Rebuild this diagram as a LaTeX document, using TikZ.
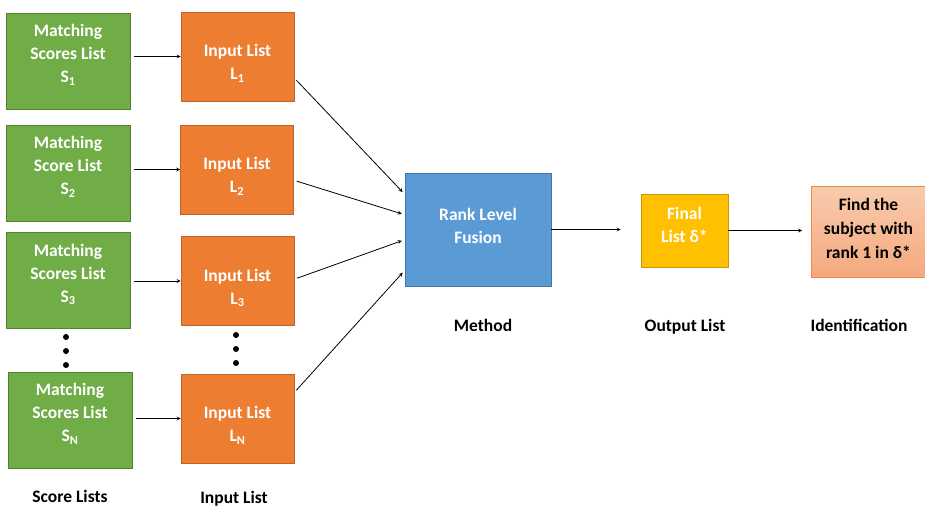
\documentclass[tikz,border=0pt]{standalone}
\usepackage{fontspec}
\setmainfont{Carlito}
\usetikzlibrary{calc,positioning,arrows}

\definecolor{scoregreen}{HTML}{70AD47}
\definecolor{inputorange}{HTML}{ED7D31}
\definecolor{fusionblue}{HTML}{5B9BD5}
\definecolor{finalyellow}{HTML}{FFC000}
\definecolor{identtop}{HTML}{F8CBAD}
\definecolor{identbot}{HTML}{F4A97E}

\tikzset{
	box/.style={rectangle,inner sep=0pt,line width=0.6pt},
	boxtext/.style={inner sep=0pt,align=center,text=white,font=\fontsize{17.5}{23}\selectfont\bfseries},
	scorebox/.style={box,fill=scoregreen,draw=scoregreen!75!black,minimum width=124pt,minimum height=96pt},
	listbox/.style={box,fill=inputorange,draw=inputorange!80!black,minimum width=113pt,minimum height=89pt},
	caption/.style={font=\fontsize{17.5}{23}\selectfont\bfseries,anchor=base}
}

\begin{document}
\begin{tikzpicture}[x=1pt,y=-1pt]
		\useasboundingbox (0,0) rectangle (925,508);
		% score lists and input lists
		\node[scorebox] (s1) at (68,61)    {};
		\node[scorebox] (s2) at (68,173)   {};
		\node[scorebox] (s3) at (68,280.5) {};
		\node[scorebox] (sn) at (70,420)   {};
		\node[boxtext] (s1-t) at ([yshift=6pt]s1.center) {Matching\\Scores List\\S\textsubscript{1}};
		\node[boxtext] (s2-t) at ([yshift=6pt]s2.center) {Matching\\Score List\\S\textsubscript{2}};
		\node[boxtext] (s3-t) at ([yshift=6pt]s3.center) {Matching\\Scores List\\S\textsubscript{3}};
		\node[boxtext] (sn-t) at ([yshift=6pt]sn.center) {Matching\\Scores List\\S\textsubscript{N}};
		\node[listbox] (l1) at (237.5,56.5)  {};
		\node[listbox] (l2) at (237,169.5)   {};
		\node[listbox] (l3) at (237.5,281)   {};
		\node[listbox] (ln) at (237.5,418.5) {};
		\node[boxtext] (l1-t) at ([yshift=-7pt]l1.center) {Input List\\L\textsubscript{1}};
		\node[boxtext] (l2-t) at ([yshift=-7pt]l2.center) {Input List\\L\textsubscript{2}};
		\node[boxtext] (l3-t) at ([yshift=-7pt]l3.center) {Input List\\L\textsubscript{3}};
		\node[boxtext] (ln-t) at ([yshift=-7pt]ln.center) {Input List\\L\textsubscript{N}};
		\foreach \y in {337,351,365} {\fill (66,\y) circle (3pt);}
		\foreach \y in {335,349,363} {\fill (236,\y) circle (3pt);}
		% fusion and output
		\node[box,fill=fusionblue,draw=fusionblue!75!black,minimum width=146pt,minimum height=113pt] (fusion) at (478,229.5) {};
		\node[boxtext] (fusion-t) at ([yshift=4pt]fusion.center) {Rank Level\\Fusion};
		\node[box,fill=finalyellow,draw=finalyellow!80!black,minimum width=87pt,minimum height=73pt] (final) at (684.5,230.5) {};
		\node[boxtext] (final-t) at ([yshift=6pt]final.center) {Final\\List δ*};
		\node[box,top color=identtop,bottom color=identbot,draw=inputorange!90!white,minimum width=114pt,minimum height=91pt] (ident) at (868.5,231.5) {};
		\node[boxtext,text=black,font=\fontsize{17.5}{24}\selectfont\bfseries] (ident-t) at ([yshift=3pt]ident.center) {Find the\\subject with\\rank 1 in δ*};
		% captions
		\node[caption] (c1) at (70,502)  {Score Lists};
		\node[caption] (c2) at (234,503) {Input List};
		\node[caption] (c3) at (483,331) {Method};
		\node[caption] (c4) at (685,331) {Output List};
		\node[caption] (c5) at (859,331) {Identification};
		\path[-stealth,line width=0.8pt]
		(s1.east |- l1.west) edge[shorten <=4pt] (l1.west)
		(s2.east |- l2.west) edge[shorten <=4pt] (l2.west)
		(s3.east |- l3.west) edge[shorten <=4pt] (l3.west)
		(sn.east |- ln.west) edge[shorten <=4pt] (ln.west)
		($(l1.north east)!0.74!(l1.south east)$) edge[shorten <=3pt,shorten >=3pt] ($(fusion.north west)!0.19!(fusion.south west)$)
		($(l2.north east)!0.62!(l2.south east)$) edge[shorten <=3pt,shorten >=3pt] ($(fusion.north west)!0.37!(fusion.south west)$)
		($(l3.north east)!0.48!(l3.south east)$) edge[shorten <=3pt,shorten >=3pt] ($(fusion.north west)!0.59!(fusion.south west)$)
		($(ln.north east)!0.21!(ln.south east)$) edge[shorten <=3pt,shorten >=3pt] ($(fusion.north west)!0.86!(fusion.south west)$)
		(fusion.east) edge[shorten >=20pt] (fusion.east -| final.west)
		(final.east) edge[shorten >=9pt] (final.east -| ident.west);
\end{tikzpicture}
\end{document}
